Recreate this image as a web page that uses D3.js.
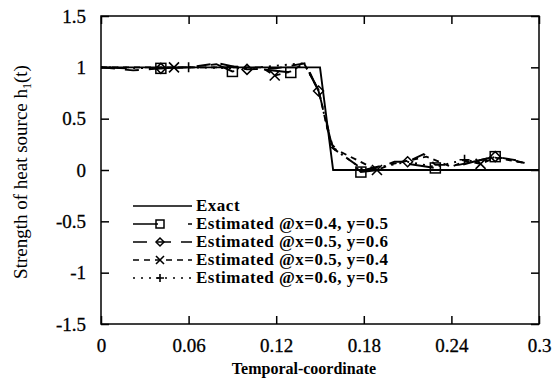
<!DOCTYPE html>
<html>
<head>
<meta charset="utf-8">
<script src="https://cdn.jsdelivr.net/npm/d3@7"></script>
<style>
  body { margin: 0; background: #fff; }
  svg text { font-family: "Liberation Serif", "DejaVu Serif", serif; fill: #000; }
</style>
</head>
<body>
<script>
/* axis ticks */
var xTicks = [0, 0.06, 0.12, 0.18, 0.24, 0.3]
var xTickLabels = ["0", "0.06", "0.12", "0.18", "0.24", "0.3"]
var yTicks = [1.5, 1, 0.5, 0, -0.5, -1, -1.5]
var yTickLabels = ["1.5", "1", "0.5", "0", "-0.5", "-1", "-1.5"]

/* exact source */
var exactT = [0, 0.15, 0.159, 0.3]
var exactV = [1, 1, 0, 0]

/* estimated @x=0.4, y=0.5 (squares) */
var sqT = [0, 0.02, 0.041, 0.06, 0.079, 0.09, 0.105, 0.13, 0.139, 0.149, 0.158, 0.178, 0.19, 0.21, 0.229, 0.24, 0.255, 0.27, 0.29]
var sqV = [1.0, 0.99, 0.99, 1.0, 1.03, 0.96, 0.99, 0.95, 1.05, 0.77, 0.25, -0.02, 0.0, 0.06, 0.02, 0.02, 0.08, 0.13, 0.07]
var sqMarks = [2, 5, 7, 11, 14, 17]

/* estimated @x=0.5, y=0.6 (diamonds) */
var dmT = [0, 0.022, 0.041, 0.06, 0.08, 0.1, 0.12, 0.14, 0.149, 0.159, 0.18, 0.195, 0.201, 0.21, 0.221, 0.229, 0.245, 0.27, 0.29]
var dmV = [1.0, 0.97, 0.99, 1.0, 1.04, 0.98, 0.99, 1.04, 0.77, 0.21, 0.0, 0.05, 0.08, 0.08, 0.155, 0.05, 0.05, 0.13, 0.08]
var dmMarks = [2, 5, 8, 13, 17]

/* estimated @x=0.5, y=0.4 (crosses) */
var crT = [0, 0.03, 0.05, 0.07, 0.11, 0.119, 0.13, 0.139, 0.149, 0.158, 0.189, 0.2, 0.223, 0.24, 0.25, 0.26, 0.27, 0.29]
var crV = [1.0, 1.0, 1.0, 1.0, 1.0, 0.92, 0.96, 1.04, 0.78, 0.22, 0.0, 0.06, 0.13, 0.03, 0.09, 0.06, 0.12, 0.07]
var crMarks = [2, 5, 10, 15]

/* estimated @x=0.6, y=0.5 (pluses) */
var plT = [0, 0.04, 0.06, 0.1, 0.139, 0.149, 0.158, 0.18, 0.21, 0.229, 0.249, 0.26, 0.27, 0.29]
var plV = [1.0, 0.99, 1.0, 0.99, 1.04, 0.78, 0.22, 0.0, 0.08, 0.03, 0.1, 0.07, 0.13, 0.07]
var plMarks = [2, 10]

var legendLabels = ["Exact", "Estimated @x=0.4, y=0.5", "Estimated @x=0.5, y=0.6",
                    "Estimated @x=0.5, y=0.4", "Estimated @x=0.6, y=0.5"]

var W = 559, H = 380
var margin = {left: 101, right: 20, top: 16, bottom: 56}

var svg = d3.select("body").append("svg")
    .attr("width", W)
    .attr("height", H)

var x = d3.scaleLinear().domain([0, 0.3]).range([margin.left, W - margin.right])
var y = d3.scaleLinear().domain([-1.5, 1.5]).range([H - margin.bottom, margin.top])

function zip(t, v) {
    return t.map(function(d, i) { return [d, v[i]] })
}

var series = [
    {pts: zip(exactT, exactV), marks: [], sym: null, dash: null},
    {pts: zip(sqT, sqV), marks: sqMarks, sym: "square", dash: "25,30"},
    {pts: zip(dmT, dmV), marks: dmMarks, sym: "diamond", dash: "14,10"},
    {pts: zip(crT, crV), marks: crMarks, sym: "cross", dash: "6,5"},
    {pts: zip(plT, plV), marks: plMarks, sym: "plus", dash: "2,6"}
]

/* axes with inward ticks on all four sides */
function styleAxis(g) {
    g.attr("font-family", null)
    g.select(".domain").remove()
    g.selectAll("line").attr("stroke", "#000").attr("stroke-width", 1.5)
    g.selectAll("text").attr("font-size", "19px")
        .attr("stroke", "#000").attr("stroke-width", 0.3)
}

svg.append("g")
    .attr("transform", "translate(0," + y(-1.5) + ")")
    .call(d3.axisBottom(x).tickValues(xTicks).tickSizeInner(-8).tickSizeOuter(0).tickPadding(15)
        .tickFormat(function(d, i) { return xTickLabels[i] }))
    .call(styleAxis)

svg.append("g")
    .attr("transform", "translate(0," + y(1.5) + ")")
    .call(d3.axisTop(x).tickValues(xTicks).tickSizeInner(-8).tickSizeOuter(0).tickFormat(""))
    .call(styleAxis)

svg.append("g")
    .attr("transform", "translate(" + x(0) + ",0)")
    .call(d3.axisLeft(y).tickValues(yTicks).tickSizeInner(-8).tickSizeOuter(0).tickPadding(15)
        .tickFormat(function(d, i) { return yTickLabels[i] }))
    .call(styleAxis)

svg.append("g")
    .attr("transform", "translate(" + x(0.3) + ",0)")
    .call(d3.axisRight(y).tickValues(yTicks).tickSizeInner(-8).tickSizeOuter(0).tickFormat(""))
    .call(styleAxis)

svg.append("rect")
    .attr("x", x(0)).attr("y", y(1.5))
    .attr("width", x(0.3) - x(0)).attr("height", y(-1.5) - y(1.5))
    .attr("fill", "none").attr("stroke", "#000").attr("stroke-width", 1.5)

/* marker drawing */
function marker(g, sym, cx, cy, s) {
    var h = s / 2
    if (sym == "square") {
        g.append("rect").attr("x", cx - h).attr("y", cy - h).attr("width", s).attr("height", s)
            .attr("fill", "none").attr("stroke", "#000").attr("stroke-width", 1.5)
    } else if (sym == "diamond") {
        g.append("path").attr("d", "M" + cx + "," + (cy - h) + "L" + (cx + h) + "," + cy + "L" + cx + "," + (cy + h) + "L" + (cx - h) + "," + cy + "Z")
            .attr("fill", "none").attr("stroke", "#000").attr("stroke-width", 1.5)
    } else if (sym == "cross") {
        g.append("path").attr("d", "M" + (cx - h) + "," + (cy - h) + "L" + (cx + h) + "," + (cy + h) + "M" + (cx - h) + "," + (cy + h) + "L" + (cx + h) + "," + (cy - h))
            .attr("stroke", "#000").attr("stroke-width", 1.6)
    } else if (sym == "plus") {
        g.append("path").attr("d", "M" + (cx - h) + "," + cy + "L" + (cx + h) + "," + cy + "M" + cx + "," + (cy - h) + "L" + cx + "," + (cy + h))
            .attr("stroke", "#000").attr("stroke-width", 1.6)
    }
}

var line = d3.line()
    .x(function(d) { return x(d[0]) })
    .y(function(d) { return y(d[1]) })

var plot = svg.append("g")

series.forEach(function(s) {
    plot.append("path")
        .datum(s.pts)
        .attr("d", line)
        .attr("fill", "none")
        .attr("stroke", "#000")
        .attr("stroke-width", 1.9)
        .attr("stroke-dasharray", s.dash)
    s.marks.forEach(function(i) {
        marker(plot, s.sym, x(s.pts[i][0]), y(s.pts[i][1]), 10)
    })
})

/* legend */
var legend = svg.append("g")
var rowY = [206, 224, 242, 260, 278]
series.forEach(function(s, i) {
    legend.append("line")
        .attr("x1", 133).attr("x2", 192)
        .attr("y1", rowY[i]).attr("y2", rowY[i])
        .attr("stroke", "#000").attr("stroke-width", 1.5)
        .attr("stroke-dasharray", s.dash)
    if (s.sym) marker(legend, s.sym, 160, rowY[i], 8)
    legend.append("text")
        .attr("x", 196).attr("y", rowY[i] + 5)
        .attr("font-size", "17px")
        .attr("font-weight", "bold")
        .attr("letter-spacing", "0.5px")
        .text(legendLabels[i])
})

/* axis titles */
svg.append("text")
    .attr("x", 304).attr("y", 374)
    .attr("text-anchor", "middle")
    .attr("font-size", "16px")
    .attr("font-weight", "bold")
    .text("Temporal-coordinate")

var yt = svg.append("text")
    .attr("transform", "translate(27,172) rotate(-90)")
    .attr("text-anchor", "middle")
    .attr("font-size", "19px")
yt.append("tspan").text("Strength of heat source h")
yt.append("tspan").attr("font-size", "12px").attr("dy", 4).text("1")
yt.append("tspan").attr("dy", -4).text("(t)")
</script>
</body>
</html>
